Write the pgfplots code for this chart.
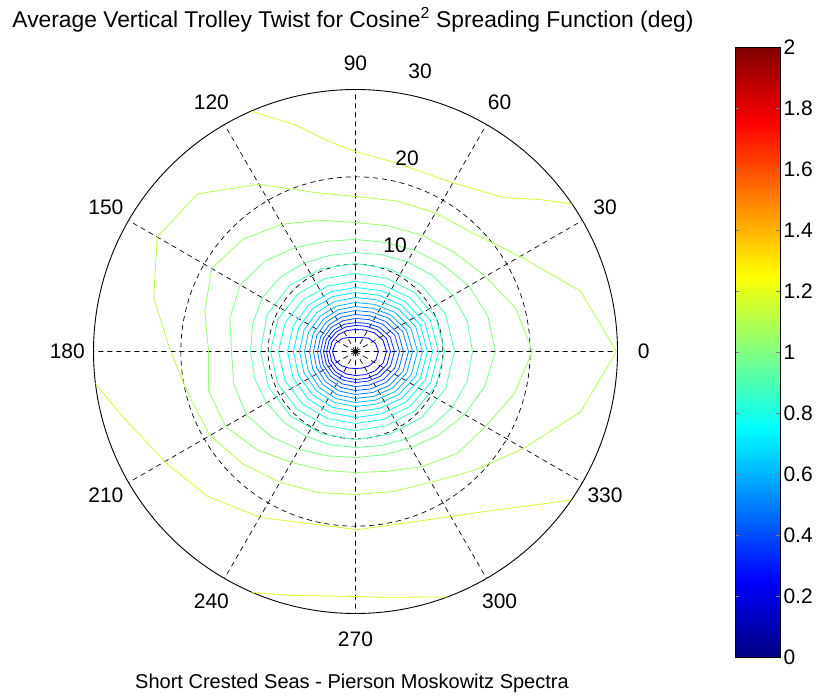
\documentclass[border=0pt]{standalone}
\usepackage{pgfplots}
\pgfplotsset{compat=1.18}
\usepgfplotslibrary{polar}
\usepackage{fontspec}
\setmainfont{Liberation Sans}

% jet colours of the contour levels (colour scale 0..2)
\definecolor{c020}{rgb}{0,0,0.9}
\definecolor{c025}{rgb}{0,0,1}
\definecolor{c030}{rgb}{0,0.1,1}
\definecolor{c035}{rgb}{0,0.2,1}
\definecolor{c040}{rgb}{0,0.3,1}
\definecolor{c045}{rgb}{0,0.4,1}
\definecolor{c050}{rgb}{0,0.5,1}
\definecolor{c055}{rgb}{0,0.6,1}
\definecolor{c060}{rgb}{0,0.7,1}
\definecolor{c065}{rgb}{0,0.8,1}
\definecolor{c070}{rgb}{0,0.9,1}
\definecolor{c075}{rgb}{0,1,1}
\definecolor{c080}{rgb}{0.1,1,0.9}
\definecolor{c085}{rgb}{0.2,1,0.8}
\definecolor{c090}{rgb}{0.3,1,0.7}
\definecolor{c095}{rgb}{0.4,1,0.6}
\definecolor{c100}{rgb}{0.5,1,0.5}
\definecolor{c105}{rgb}{0.6,1,0.4}
\definecolor{c110}{rgb}{0.7,1,0.3}
\definecolor{c115}{rgb}{0.8,1,0.2}
\definecolor{c120}{rgb}{0.9,1,0.1}

\newcommand{\lbl}{\fontsize{21bp}{25bp}\selectfont}

\begin{document}
\begin{tikzpicture}
\begin{polaraxis}[
  at={(355.5bp,346.5bp)}, anchor=center,
  scale only axis, width=524bp, height=524bp,
  xmin=0, xmax=360, ymin=0, ymax=30,
  xtick={0,30,...,330}, ytick={10,20},
  xticklabels={}, yticklabels={},
  grid=major,
  major grid style={black, line width=0.7bp, dash pattern=on 5bp off 4bp},
  major tick length=0pt,
  axis line style={black, line width=0.9bp},
  y axis line style={draw=none},
  clip=false,
  every axis plot/.append style={line width=0.8bp, mark=none},
]
% closed contour lines, (angle, radius), levels 0.20 ... 1.10
\addplot[c020] coordinates {(0,2.63)(22.5,2.48)(45,2.12)(67.5,1.75)(90,1.60)(112.5,1.75)(135,2.12)(157.5,2.48)(180,2.63)(202.5,2.53)(225,2.29)(247.5,2.05)(270,1.95)(292.5,2.05)(315,2.29)(337.5,2.53)(360,2.63)};
\addplot[c025] coordinates {(0,3.55)(22.5,3.40)(45,3.04)(67.5,2.67)(90,2.52)(112.5,2.59)(135,2.75)(157.5,2.91)(180,2.98)(202.5,2.95)(225,2.87)(247.5,2.78)(270,2.75)(292.5,2.87)(315,3.15)(337.5,3.43)(360,3.55)};
\addplot[c030] coordinates {(0,4.01)(22.5,3.86)(45,3.50)(67.5,3.13)(90,2.98)(112.5,3.03)(135,3.15)(157.5,3.27)(180,3.32)(202.5,3.30)(225,3.27)(247.5,3.23)(270,3.21)(292.5,3.33)(315,3.61)(337.5,3.89)(360,4.01)};
\addplot[c035] coordinates {(0,4.47)(22.5,4.30)(45,3.90)(67.5,3.49)(90,3.32)(112.5,3.37)(135,3.49)(157.5,3.61)(180,3.66)(202.5,3.64)(225,3.61)(247.5,3.57)(270,3.55)(292.5,3.68)(315,4.01)(337.5,4.34)(360,4.47)};
\addplot[c040] coordinates {(0,5.04)(22.5,4.86)(45,4.41)(67.5,3.96)(90,3.78)(112.5,3.81)(135,3.90)(157.5,3.98)(180,4.01)(202.5,4.01)(225,4.01)(247.5,4.01)(270,4.01)(292.5,4.16)(315,4.53)(337.5,4.89)(360,5.04)};
\addplot[c045] coordinates {(0,5.50)(22.5,5.32)(45,4.87)(67.5,4.42)(90,4.24)(112.5,4.26)(135,4.30)(157.5,4.33)(180,4.35)(202.5,4.37)(225,4.41)(247.5,4.45)(270,4.47)(292.5,4.62)(315,4.99)(337.5,5.35)(360,5.50)};
\addplot[c050] coordinates {(0,6.07)(22.5,5.87)(45,5.38)(67.5,4.89)(90,4.69)(112.5,4.71)(135,4.75)(157.5,4.79)(180,4.81)(202.5,4.83)(225,4.87)(247.5,4.90)(270,4.92)(292.5,5.09)(315,5.50)(337.5,5.90)(360,6.07)};
\addplot[c055] coordinates {(0,6.53)(22.5,6.33)(45,5.84)(67.5,5.35)(90,5.15)(112.5,5.17)(135,5.21)(157.5,5.25)(180,5.27)(202.5,5.29)(225,5.33)(247.5,5.36)(270,5.38)(292.5,5.55)(315,5.96)(337.5,6.36)(360,6.53)};
\addplot[c060] coordinates {(0,7.10)(22.5,6.88)(45,6.36)(67.5,5.83)(90,5.61)(112.5,5.64)(135,5.73)(157.5,5.81)(180,5.84)(202.5,5.84)(225,5.84)(247.5,5.84)(270,5.84)(292.5,6.02)(315,6.47)(337.5,6.92)(360,7.10)};
\addplot[c065] coordinates {(0,7.67)(22.5,7.45)(45,6.93)(67.5,6.40)(90,6.18)(112.5,6.21)(135,6.30)(157.5,6.38)(180,6.41)(202.5,6.39)(225,6.36)(247.5,6.32)(270,6.30)(292.5,6.50)(315,6.99)(337.5,7.47)(360,7.67)};
\addplot[c070] coordinates {(0,8.24)(22.5,8.02)(45,7.50)(67.5,6.98)(90,6.76)(112.5,6.81)(135,6.93)(157.5,7.05)(180,7.10)(202.5,7.07)(225,6.99)(247.5,6.90)(270,6.87)(292.5,7.07)(315,7.56)(337.5,8.04)(360,8.24)};
\addplot[c075] coordinates {(0,8.82)(22.5,8.60)(45,8.08)(67.5,7.55)(90,7.33)(112.5,7.40)(135,7.56)(157.5,7.72)(180,7.79)(202.5,7.76)(225,7.68)(247.5,7.59)(270,7.56)(292.5,7.74)(315,8.19)(337.5,8.64)(360,8.82)};
\addplot[c080] coordinates {(0,9.50)(22.5,9.28)(45,8.76)(67.5,8.24)(90,8.02)(112.5,8.14)(135,8.42)(157.5,8.70)(180,8.82)(202.5,8.74)(225,8.53)(247.5,8.32)(270,8.24)(292.5,8.42)(315,8.87)(337.5,9.32)(360,9.50)};
\addplot[c085] coordinates {(0,10.19)(22.5,10.01)(45,9.56)(67.5,9.11)(90,8.93)(112.5,9.05)(135,9.33)(157.5,9.61)(180,9.73)(202.5,9.63)(225,9.39)(247.5,9.15)(270,9.05)(292.5,9.22)(315,9.62)(337.5,10.02)(360,10.19)};
\addplot[c090] coordinates {(0,11.34)(22.5,11.16)(45,10.71)(67.5,10.26)(90,10.08)(112.5,10.25)(135,10.70)(157.5,10.95)(180,10.88)(202.5,10.76)(225,10.48)(247.5,10.20)(270,10.08)(292.5,10.26)(315,10.71)(337.5,11.16)(360,11.34)};
\addplot[c095] coordinates {(0,13.40)(15,13.26)(30,12.89)(45,12.37)(60,11.86)(75,11.48)(90,11.34)(105,11.39)(120,11.70)(135,12.10)(150,12.30)(165,12.20)(180,12.02)(195,11.95)(210,11.76)(225,11.51)(240,11.25)(255,11.06)(270,10.99)(285,11.15)(300,11.59)(315,12.20)(330,12.80)(345,13.24)(360,13.40)};
\addplot[c100] coordinates {(0,16.03)(15,15.69)(30,15.00)(45,14.08)(60,13.40)(75,12.94)(90,12.83)(105,13.05)(120,13.74)(135,14.66)(150,15.23)(165,14.89)(180,14.20)(195,14.43)(210,14.43)(225,13.74)(240,12.94)(255,12.37)(270,12.14)(285,12.25)(300,12.71)(315,13.51)(330,14.43)(345,15.34)(360,16.03)};
\addplot[c105] coordinates {(0,20.27)(15,19.01)(30,17.18)(45,16.03)(60,15.34)(75,14.89)(90,14.77)(105,15.57)(120,16.83)(135,18.21)(150,19.01)(165,17.86)(180,16.83)(195,17.41)(210,17.18)(225,15.92)(240,14.66)(255,14.08)(270,13.86)(285,14.20)(300,15.23)(315,16.49)(330,17.18)(345,18.78)(360,20.27)};
\addplot[c110] coordinates {(0,29.90)(15,26.68)(30,21.76)(45,19.12)(60,18.32)(75,17.86)(90,17.75)(105,18.89)(120,22.10)(135,25.54)(150,26.22)(165,23.93)(180,21.18)(195,19.70)(210,19.24)(225,18.21)(240,17.29)(255,16.72)(270,16.37)(285,16.60)(300,17.29)(315,19.24)(330,22.21)(345,26.68)(360,29.90)};
% open contour lines that leave the outer circle
\addplot[c115] coordinates {(113.5,30.0)(105,26.9)(97,24.2)(90,22.9)(78,22.1)(60,22.3)(46,24.5)(39.4,27.4)(34.3,30.0)};
\addplot[c115] coordinates {(187,30.0)(195.6,27.7)(211,25.1)(224.4,23.7)(240.2,21.9)(270.6,20.4)(286.9,20.5)(308.7,23.5)(324.2,29.3)(325.5,30.0)};
\addplot[c120] coordinates {(246.9,30.0)(255.1,28.9)(270,28.05)(275.8,28.3)(290.5,30.0)};
% centre marker
\addplot[black, only marks, mark=asterisk, mark size=2.5bp] coordinates {(0,0)};
% angle labels
\pgfplotsinvokeforeach{0,30,...,330}{
  \node[font=\lbl, inner sep=0pt] at (axis cs:#1,33) {#1};
}
\end{polaraxis}

% radial labels
\node[font=\lbl, inner sep=0pt] at (395bp,453bp) {10};
\node[font=\lbl, inner sep=0pt] at (407bp,540bp) {20};
\node[font=\lbl, inner sep=0pt] at (420bp,627bp) {30};

% colour bar
\begin{axis}[
  at={(735bp,41bp)}, anchor=south west,
  scale only axis, width=45bp, height=610bp,
  xmin=0, xmax=1, ymin=0, ymax=2,
  xtick=\empty, ytick={0,0.2,...,2},
  yticklabel pos=right, ytick pos=both,
  tick align=inside, major tick length=4bp,
  yticklabel style={font=\lbl, /pgf/number format/assume math mode=true, /pgf/number format/fixed},
  colormap/jet, point meta min=0, point meta max=2,
  axis line style={black, line width=0.7bp},
  axis on top,
]
\addplot[surf, shader=interp, point meta=y, mesh/rows=2] coordinates {(0,0) (1,0) (0,2) (1,2)};
\end{axis}

\node[font=\fontsize{22.8bp}{27bp}\selectfont] at (353bp,678bp) {Average Vertical Trolley Twist for Cosine\textsuperscript{2} Spreading Function (deg)};
\node[font=\fontsize{20bp}{24bp}\selectfont] at (352bp,15bp) {Short Crested Seas - Pierson Moskowitz Spectra};

\pgfresetboundingbox
\useasboundingbox (0,0) rectangle (825bp,698bp);
\end{tikzpicture}
\end{document}
